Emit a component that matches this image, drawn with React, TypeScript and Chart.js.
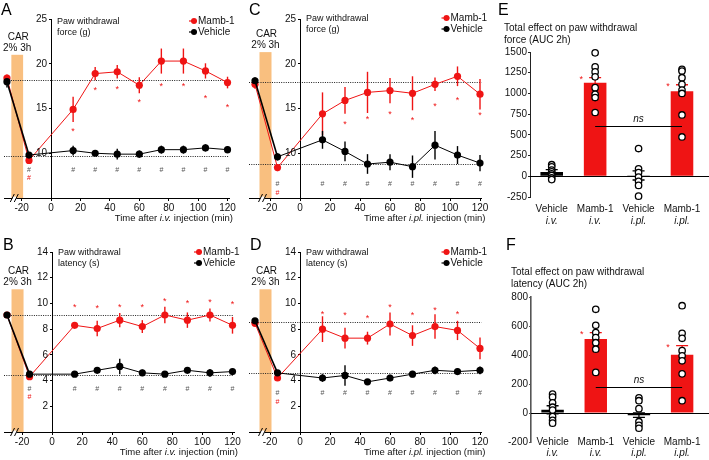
import React, { useEffect, useRef } from 'react';
import { Chart, registerables } from 'chart.js';

Chart.register(...registerables);

const FONT = "'Liberation Sans', Arial, Helvetica, sans-serif";
const RED = '#EF1414';
const BLACK = '#000000';
const ORANGE = '#F9BF7F';
const HASH_GRAY = '#555555';

// ---------- shared time axis ----------
const TIMES = [-30, -15, 15, 30, 45, 60, 75, 90, 105, 120];
const X_TICKS = [-20, 0, 20, 40, 60, 80, 100, 120];
const CAR_WINDOW = [-27, -19];
const AXIS_BREAK = -25;

// ---------- Panel A: force, i.v. ----------
const A_MAMB = [18.4, 9.2, 14.9, 18.9, 19.1, 17.6, 20.3, 20.3, 19.2, 17.9];
const A_MAMB_ERR = [0.4, 0.3, 1.4, 0.75, 0.75, 0.9, 1.4, 1.4, 0.85, 0.65];
const A_VEH = [18.0, 9.8, 10.3, 10.0, 9.9, 9.9, 10.4, 10.4, 10.6, 10.4];
const A_VEH_ERR = [0.65, 0.3, 0.55, 0.3, 0.6, 0.4, 0.45, 0.45, 0.4, 0.4];
const A_REF = [18.2, 9.7];
const A_STAR = [null, null, 12.7, 17.2, 17.4, 15.9, 17.7, 17.7, 16.3, 15.3];
const A_HASH = [null, 8.1, 8.1, 8.1, 8.1, 8.1, 8.1, 8.1, 8.1, 8.1];
const A_HASH_RED = [null, 7.2, null, null, null, null, null, null, null, null];

// ---------- Panel B: latency, i.v. ----------
const B_MAMB = [9.1, 4.3, 8.3, 8.05, 8.7, 8.2, 9.1, 8.7, 9.1, 8.3];
const B_MAMB_ERR = [0.15, 0.15, 0.2, 0.6, 0.55, 0.5, 0.65, 0.6, 0.5, 0.65];
const B_VEH = [9.1, 4.5, 4.5, 4.8, 5.1, 4.6, 4.5, 4.8, 4.6, 4.7];
const B_VEH_ERR = [0.15, 0.15, 0.15, 0.2, 0.6, 0.25, 0.15, 0.2, 0.3, 0.2];
const B_REF = [9.1, 4.45];
const B_STAR = [null, null, 9.8, 9.75, 9.85, 9.85, 10.3, 10.15, 10.2, 10.05];
const B_HASH = [null, 3.35, 3.35, 3.35, 3.35, 3.35, 3.35, 3.35, 3.35, 3.35];
const B_HASH_RED = [null, 2.7, null, null, null, null, null, null, null, null];

// ---------- Panel C: force, i.pl. ----------
const C_MAMB = [17.7, 8.4, 14.4, 15.9, 16.8, 17.0, 16.7, 17.7, 18.6, 16.6];
const C_MAMB_ERR = [0.5, 0.4, 2.4, 1.5, 2.3, 1.4, 1.9, 0.75, 1.1, 1.7];
const C_VEH = [18.1, 9.6, 11.5, 10.2, 8.8, 9.0, 8.5, 10.9, 9.8, 8.9];
const C_VEH_ERR = [0.4, 0.4, 1.0, 1.1, 1.1, 0.9, 1.25, 1.6, 1.0, 0.9];
const C_REF = [18.0, 8.8];
const C_STAR = [null, null, null, 13.4, 14.0, 14.6, 13.9, 15.4, 16.1, 14.4];
const C_HASH = [null, 6.6, 6.6, 6.6, 6.6, 6.6, 6.6, 6.6, 6.6, 6.6];
const C_HASH_RED = [null, 5.6, null, null, null, null, null, null, null, null];

// ---------- Panel D: latency, i.pl. ----------
const D_MAMB = [8.45, 4.2, 8.0, 7.3, 7.3, 8.4, 7.5, 8.2, 7.9, 6.5];
const D_MAMB_ERR = [0.15, 0.2, 1.0, 0.8, 0.5, 0.9, 0.8, 0.95, 0.75, 0.85];
const D_VEH = [8.65, 4.6, 4.2, 4.4, 3.9, 4.2, 4.5, 4.8, 4.7, 4.8];
const D_VEH_ERR = [0.2, 0.2, 0.3, 0.8, 0.15, 0.25, 0.25, 0.3, 0.25, 0.3];
const D_REF = [8.55, 4.6];
const D_STAR = [null, null, 9.3, 9.2, 9.0, 9.8, 9.2, 9.6, 9.3, null];
const D_HASH = [null, 3.0, 3.0, 3.0, 3.0, 3.0, 3.0, 3.0, 3.0, 3.0];
const D_HASH_RED = [null, 2.3, null, null, null, null, null, null, null, null];

// ---------- Bar panels ----------
const CAT_LABELS = ['Vehicle i.v.', 'Mamb-1 i.v.', 'Vehicle i.pl.', 'Mamb-1 i.pl.'];
const CAT_NAME = ['Vehicle', 'Mamb-1', 'Vehicle', 'Mamb-1'];
const CAT_ROUTE = ['i.v.', 'i.v.', 'i.pl.', 'i.pl.'];

// Panel E: AUC force
const E_MEANS = [52, 1130, 10, 1025];
const E_ERR = [28, 60, 55, 80];
const E_DOTS_VEH_IV = [140, 115, 75, 55, 30, 10, -20, -40];
const E_DOTS_MAMB_IV = [1490, 1320, 1260, 1200, 1070, 990, 950, 770];
const E_DOTS_VEH_IPL = [335, 90, 45, -10, -60, -110, -240];
const E_DOTS_MAMB_IPL = [1290, 1270, 1190, 1110, 1040, 1000, 740, 475];
const E_STAR = [null, 1195, null, 1105];
const E_NS = 610;

// Panel F: AUC latency
const F_MEANS = [22, 510, -15, 402];
const F_ERR = [28, 45, 15, 62];
const F_DOTS_VEH_IV = [130, 110, 70, 40, 20, -25, -50, -70];
const F_DOTS_MAMB_IV = [715, 605, 555, 520, 485, 440, 280];
const F_DOTS_VEH_IPL = [105, 85, 30, -60, -85, -105];
const F_DOTS_MAMB_IPL = [740, 550, 515, 430, 395, 360, 270, 85];
const F_STAR = [null, 555, null, 464];
const F_NS = 178;

type Num = number | null;

interface LineSpec {
  letter: string;
  box: { left: number; top: number; width: number; height: number };
  pad: { left: number; right: number; top: number; bottom: number };
  xMin: number; xMax: number; yMin: number; yMax: number; yStep: number;
  bandTop: number;
  mamb: number[]; mambErr: number[]; veh: number[]; vehErr: number[];
  ref: number[]; star: Num[]; hash: Num[]; hashRed: Num[];
  yTitle: string[]; route: string;
  letterPos: [number, number]; titleDy: number; legendDy: number;
}

interface BarSpec {
  letter: string;
  box: { left: number; top: number; width: number; height: number };
  pad: { left: number; right: number; top: number; bottom: number };
  axisWidth: number;
  yMin: number; yMax: number; yStep: number;
  means: number[]; err: number[]; dots: number[][]; star: Num[]; ns: number;
  title: string[]; titlePos: [number, number];
  letterPos: [number, number]; catDy: [number, number];
  axisColor: string; axisWidthPx: number;
}

const SPEC_A: LineSpec = {
  letter: 'A', box: { left: 0, top: 0, width: 240, height: 232 },
  pad: { left: 3, right: 11, top: 19, bottom: 18 },
  xMin: -32, xMax: 121, yMin: 5, yMax: 25, yStep: 5, bandTop: 21,
  mamb: A_MAMB, mambErr: A_MAMB_ERR, veh: A_VEH, vehErr: A_VEH_ERR,
  ref: A_REF, star: A_STAR, hash: A_HASH, hashRed: A_HASH_RED,
  yTitle: ['Paw withdrawal', 'force (g)'], route: 'i.v.',
  letterPos: [1, 15], titleDy: 5, legendDy: 2,
};
const SPEC_B: LineSpec = {
  letter: 'B', box: { left: 0, top: 225, width: 242, height: 235 },
  pad: { left: 3, right: 8, top: 27, bottom: 12 },
  xMin: -32, xMax: 121, yMin: 0, yMax: 14, yStep: 2, bandTop: 11.1,
  mamb: B_MAMB, mambErr: B_MAMB_ERR, veh: B_VEH, vehErr: B_VEH_ERR,
  ref: B_REF, star: B_STAR, hash: B_HASH, hashRed: B_HASH_RED,
  yTitle: ['Paw withdrawal', 'latency (s)'], route: 'i.v.',
  letterPos: [3, 25], titleDy: 3, legendDy: 0,
};
const SPEC_C: LineSpec = {
  letter: 'C', box: { left: 240, top: 0, width: 250, height: 232 },
  pad: { left: 9, right: 8.5, top: 19, bottom: 18 },
  xMin: -34, xMax: 121, yMin: 5, yMax: 25, yStep: 5, bandTop: 21.3,
  mamb: C_MAMB, mambErr: C_MAMB_ERR, veh: C_VEH, vehErr: C_VEH_ERR,
  ref: C_REF, star: C_STAR, hash: C_HASH, hashRed: C_HASH_RED,
  yTitle: ['Paw withdrawal', 'force (g)'], route: 'i.pl.',
  letterPos: [9, 15], titleDy: 2, legendDy: -1,
};
const SPEC_D: LineSpec = {
  letter: 'D', box: { left: 240, top: 225, width: 250, height: 235 },
  pad: { left: 9, right: 8.5, top: 27, bottom: 12 },
  xMin: -34, xMax: 121, yMin: 0, yMax: 14, yStep: 2, bandTop: 11.1,
  mamb: D_MAMB, mambErr: D_MAMB_ERR, veh: D_VEH, vehErr: D_VEH_ERR,
  ref: D_REF, star: D_STAR, hash: D_HASH, hashRed: D_HASH_RED,
  yTitle: ['Paw withdrawal', 'latency (s)'], route: 'i.pl.',
  letterPos: [10, 25], titleDy: 3, legendDy: 0,
};

const SPEC_E: BarSpec = {
  letter: 'E', box: { left: 490, top: 0, width: 219, height: 232 },
  pad: { left: 0, right: 3, top: 52, bottom: 35 }, axisWidth: 40,
  yMin: -250, yMax: 1500, yStep: 250,
  means: E_MEANS, err: E_ERR,
  dots: [E_DOTS_VEH_IV, E_DOTS_MAMB_IV, E_DOTS_VEH_IPL, E_DOTS_MAMB_IPL],
  star: E_STAR, ns: E_NS,
  title: ['Total effect on paw withdrawal', 'force (AUC 2h)'], titlePos: [14, 31],
  letterPos: [8, 15], catDy: [15, 27], axisColor: '#222', axisWidthPx: 1,
};
const SPEC_F: BarSpec = {
  letter: 'F', box: { left: 490, top: 232, width: 219, height: 228 },
  pad: { left: 0, right: 3, top: 65, bottom: 18 }, axisWidth: 41,
  yMin: -200, yMax: 800, yStep: 200,
  means: F_MEANS, err: F_ERR,
  dots: [F_DOTS_VEH_IV, F_DOTS_MAMB_IV, F_DOTS_VEH_IPL, F_DOTS_MAMB_IPL],
  star: F_STAR, ns: F_NS,
  title: ['Total effect on paw withdrawal', 'latency (AUC 2h)'], titlePos: [21, 43],
  letterPos: [16, 18], catDy: [3, 14], axisColor: '#555', axisWidthPx: 1.6,
};

const f = (size: number, italic = false) => `${italic ? 'italic ' : ''}${size}px ${FONT}`;

function drawRich(ctx: CanvasRenderingContext2D, parts: [string, boolean][], xRight: number, y: number, size: number) {
  let total = 0;
  const widths = parts.map(([t, it]) => {
    ctx.font = f(size, it);
    const w = ctx.measureText(t).width;
    total += w;
    return w;
  });
  let x = xRight - total;
  ctx.textAlign = 'left';
  parts.forEach(([t, it], i) => {
    ctx.font = f(size, it);
    ctx.fillText(t, x, y);
    x += widths[i];
  });
}

function linePlugin(s: LineSpec) {
  return {
    id: 'lineDecor',
    beforeDraw(chart: any) {
      const { ctx, chartArea: ca, scales } = chart;
      const x = scales.x, y = scales.y;
      ctx.save();
      const x0 = x.getPixelForValue(CAR_WINDOW[0]);
      const x1 = x.getPixelForValue(CAR_WINDOW[1]);
      const yt = y.getPixelForValue(s.bandTop);
      ctx.fillStyle = ORANGE;
      ctx.fillRect(x0, yt, x1 - x0, ca.bottom - yt);
      ctx.strokeStyle = '#222';
      ctx.lineWidth = 1;
      ctx.setLineDash([1, 1.3]);
      for (const v of s.ref) {
        const py = Math.round(y.getPixelForValue(v)) + 0.5;
        ctx.beginPath();
        ctx.moveTo(ca.left, py);
        ctx.lineTo(ca.right, py);
        ctx.stroke();
      }
      ctx.restore();
    },
    beforeDatasetsDraw(chart: any) {
      const { ctx, scales } = chart;
      const x = scales.x, y = scales.y;
      ctx.save();
      ctx.lineWidth = 1.4;
      const groups: [number[], number[], string][] = [[s.mamb, s.mambErr, RED], [s.veh, s.vehErr, BLACK]];
      groups.forEach(([vals, errs, col]) => {
        ctx.strokeStyle = col;
        TIMES.forEach((t, i) => {
          const px = x.getPixelForValue(t);
          ctx.beginPath();
          ctx.moveTo(px, y.getPixelForValue(vals[i] - errs[i]));
          ctx.lineTo(px, y.getPixelForValue(vals[i] + errs[i]));
          ctx.stroke();
        });
      });
      ctx.restore();
    },
    afterDraw(chart: any) {
      const { ctx, chartArea: ca, scales } = chart;
      const x = scales.x, y = scales.y;
      const ax = x.getPixelForValue(0);
      ctx.save();
      // y tick labels (axis crosses at x = 0)
      ctx.fillStyle = '#111';
      ctx.font = f(10);
      ctx.textAlign = 'right';
      ctx.textBaseline = 'middle';
      y.ticks.forEach((t: any) => {
        if (t.value === s.yMin) return;
        ctx.fillText(String(t.value), ax - 4, y.getPixelForValue(t.value));
      });
      ctx.textAlign = 'center';
      // significance marks
      ctx.fillStyle = RED;
      ctx.font = f(9);
      TIMES.forEach((t, i) => {
        const v = s.star[i];
        if (v !== null) ctx.fillText('*', x.getPixelForValue(t), y.getPixelForValue(v) + 2);
      });
      ctx.font = f(7);
      ctx.fillStyle = HASH_GRAY;
      TIMES.forEach((t, i) => {
        const v = s.hash[i];
        if (v !== null) ctx.fillText('#', x.getPixelForValue(t), y.getPixelForValue(v));
      });
      ctx.fillStyle = RED;
      TIMES.forEach((t, i) => {
        const v = s.hashRed[i];
        if (v !== null) ctx.fillText('#', x.getPixelForValue(t), y.getPixelForValue(v));
      });
      // axis break
      const bx = x.getPixelForValue(AXIS_BREAK);
      const by = ca.bottom;
      ctx.fillStyle = '#fff';
      ctx.fillRect(bx - 2, by - 1.5, 4, 3);
      ctx.strokeStyle = '#000';
      ctx.lineWidth = 1;
      [bx - 2, bx + 2].forEach((cx) => {
        ctx.beginPath();
        ctx.moveTo(cx - 2, by + 4);
        ctx.lineTo(cx + 2, by - 4);
        ctx.stroke();
      });
      // CAR label
      const x0 = x.getPixelForValue(CAR_WINDOW[0]);
      const x1 = x.getPixelForValue(CAR_WINDOW[1]);
      const yt = y.getPixelForValue(s.bandTop);
      ctx.fillStyle = '#111';
      ctx.textBaseline = 'alphabetic';
      ctx.font = f(10);
      ctx.fillText('CAR', (x0 + x1) / 2 + 1, yt - 15);
      ctx.fillText('2% 3h', (x0 + x1) / 2, yt - 4);
      // y title
      ctx.textAlign = 'left';
      ctx.font = f(9);
      ctx.fillText(s.yTitle[0], ax + 6, ca.top + s.titleDy);
      ctx.fillText(s.yTitle[1], ax + 6, ca.top + s.titleDy + 11);
      // legend
      const lx = ca.right - 40;
      const rows: [string, string][] = [['Mamb-1', RED], ['Vehicle', BLACK]];
      rows.forEach(([label, col], i) => {
        const ry = ca.top + s.legendDy + i * 11;
        ctx.strokeStyle = col;
        ctx.lineWidth = 1.2;
        ctx.beginPath();
        ctx.moveTo(lx, ry);
        ctx.lineTo(lx + 8, ry);
        ctx.stroke();
        ctx.fillStyle = col;
        ctx.beginPath();
        ctx.arc(lx + 5, ry, 3, 0, Math.PI * 2);
        ctx.fill();
        ctx.fillStyle = '#111';
        ctx.textBaseline = 'middle';
        ctx.font = f(10);
        ctx.fillText(label, lx + 9, ry + 0.5);
      });
      // x title
      ctx.textBaseline = 'alphabetic';
      ctx.fillStyle = '#111';
      drawRich(ctx, [['Time after ', false], [s.route, true], [' injection (min)', false]], ca.right + 4, ca.bottom + 23, 9.5);
      // panel letter
      ctx.font = f(16);
      ctx.textAlign = 'left';
      ctx.fillStyle = '#000';
      ctx.fillText(s.letter, s.letterPos[0], s.letterPos[1]);
      ctx.restore();
    },
  };
}

function barPlugin(s: BarSpec) {
  return {
    id: 'barDecor',
    beforeDatasetsDraw(chart: any) {
      const { ctx, chartArea: ca, scales } = chart;
      const py = Math.round(scales.y.getPixelForValue(0)) + 0.5;
      ctx.save();
      ctx.strokeStyle = '#000';
      ctx.lineWidth = 1.2;
      ctx.beginPath();
      ctx.moveTo(ca.left, py);
      ctx.lineTo(chart.width, py);
      ctx.stroke();
      ctx.restore();
    },
    afterDatasetDraw(chart: any, args: any) {
      if (args.index !== 1) return;
      const { ctx, scales } = chart;
      const x = scales.x, y = scales.y;
      ctx.save();
      ctx.lineWidth = 1.3;
      s.means.forEach((m, i) => {
        const px = x.getPixelForValue(i);
        const col = i % 2 ? RED : BLACK;
        ctx.strokeStyle = col;
        const yTop = y.getPixelForValue(m + s.err[i]);
        const yBot = y.getPixelForValue(m - s.err[i]);
        ctx.beginPath();
        ctx.moveTo(px, yTop);
        ctx.lineTo(px, yBot);
        ctx.moveTo(px - 6, yTop);
        ctx.lineTo(px + 6, yTop);
        ctx.moveTo(px - 6, yBot);
        ctx.lineTo(px + 6, yBot);
        ctx.stroke();
      });
      ctx.restore();
    },
    afterDraw(chart: any) {
      const { ctx, chartArea: ca, scales } = chart;
      const x = scales.x, y = scales.y;
      ctx.save();
      // ns bracket
      const nsY = Math.round(y.getPixelForValue(s.ns)) + 0.5;
      ctx.strokeStyle = '#000';
      ctx.lineWidth = 1.2;
      ctx.beginPath();
      ctx.moveTo(x.getPixelForValue(1), nsY);
      ctx.lineTo(x.getPixelForValue(3), nsY);
      ctx.stroke();
      ctx.fillStyle = '#111';
      ctx.textAlign = 'center';
      ctx.textBaseline = 'alphabetic';
      ctx.font = f(10, true);
      ctx.fillText('ns', x.getPixelForValue(2), nsY - 5);
      // stars
      ctx.fillStyle = RED;
      ctx.font = f(9);
      ctx.textBaseline = 'middle';
      s.star.forEach((v, i) => {
        if (v !== null) ctx.fillText('*', x.getPixelForValue(i) - 14, y.getPixelForValue(v) + 2);
      });
      // category labels
      ctx.fillStyle = '#111';
      ctx.textBaseline = 'alphabetic';
      CAT_NAME.forEach((name, i) => {
        const px = x.getPixelForValue(i);
        ctx.font = f(10);
        ctx.fillText(name, px, ca.bottom + s.catDy[0]);
        ctx.font = f(10, true);
        ctx.fillText(CAT_ROUTE[i], px, ca.bottom + s.catDy[1]);
      });
      // title
      ctx.textAlign = 'left';
      ctx.font = f(10);
      ctx.fillText(s.title[0], s.titlePos[0], s.titlePos[1]);
      ctx.fillText(s.title[1], s.titlePos[0], s.titlePos[1] + 12);
      // letter
      ctx.font = f(16);
      ctx.fillStyle = '#000';
      ctx.fillText(s.letter, s.letterPos[0], s.letterPos[1]);
      ctx.restore();
    },
  };
}

function buildLine(canvas: HTMLCanvasElement, s: LineSpec) {
  const pts = (vals: number[]) => TIMES.map((t, i) => ({ x: t, y: vals[i] }));
  const ds = (label: string, vals: number[], col: string, firstW: number) => ({
    label,
    data: pts(vals),
    borderColor: col,
    backgroundColor: col,
    pointBackgroundColor: col,
    pointBorderColor: col,
    pointRadius: 3.6,
    pointBorderWidth: 0,
    borderWidth: 1,
    segment: { borderWidth: (c: any) => (c.p0DataIndex === 0 ? firstW : 1) },
    tension: 0,
    clip: false,
  });
  return new Chart(canvas, {
    type: 'line',
    data: {
      datasets: [ds('Vehicle', s.veh, BLACK, 1.6), ds('Mamb-1', s.mamb, RED, 1)] as any,
    },
    options: {
      responsive: false,
      animation: false,
      devicePixelRatio: 1,
      events: [],
      layout: { padding: s.pad },
      plugins: { legend: { display: false }, tooltip: { enabled: false } },
      scales: {
        x: {
          type: 'linear',
          min: s.xMin,
          max: s.xMax,
          position: 'bottom',
          afterBuildTicks: (sc: any) => {
            sc.ticks = X_TICKS.map((v) => ({ value: v }));
          },
          afterFit: (sc: any) => {
            sc.height = 16;
          },
          ticks: { autoSkip: false, maxRotation: 0, padding: 1, color: '#111', font: { size: 10, family: FONT } },
          grid: { drawOnChartArea: false, drawTicks: true, tickLength: 3, color: '#000', lineWidth: 1 },
          border: { display: true, color: '#000', width: 1 },
        },
        y: {
          type: 'linear',
          min: s.yMin,
          max: s.yMax,
          position: { x: 0 } as any,
          ticks: {
            stepSize: s.yStep,
            display: false,
          },
          grid: { drawOnChartArea: false, drawTicks: true, tickLength: 2, color: '#000', lineWidth: 1 },
          border: { display: true, color: '#000', width: 1 },
        },
      },
    } as any,
    plugins: [linePlugin(s) as any],
  });
}

function buildBar(canvas: HTMLCanvasElement, s: BarSpec) {
  const dots = s.dots.flatMap((arr, i) => arr.map((v) => ({ x: CAT_LABELS[i], y: v })));
  return new Chart(canvas, {
    type: 'bar',
    data: {
      labels: CAT_LABELS,
      datasets: [
        {
          type: 'line',
          data: dots,
          showLine: false,
          pointRadius: 3.2,
          pointBorderWidth: 1.3,
          pointBackgroundColor: '#fff',
          pointBorderColor: '#000',
          clip: false,
        },
        {
          type: 'bar',
          data: s.means,
          backgroundColor: s.means.map((_, i) => (i % 2 ? RED : BLACK)),
          barPercentage: 0.52,
          categoryPercentage: 1,
        },
      ] as any,
    },
    options: {
      responsive: false,
      animation: false,
      devicePixelRatio: 1,
      events: [],
      layout: { padding: s.pad },
      plugins: { legend: { display: false }, tooltip: { enabled: false } },
      scales: {
        x: { type: 'category', display: false, offset: true },
        y: {
          type: 'linear',
          min: s.yMin,
          max: s.yMax,
          position: 'left',
          afterFit: (sc: any) => {
            sc.width = s.axisWidth;
          },
          ticks: {
            stepSize: s.yStep,
            padding: 1,
            color: '#111',
            font: { size: 10, family: FONT },
            callback: (v: any) => String(v),
          },
          grid: { drawOnChartArea: false, drawTicks: true, tickLength: 2, color: s.axisColor, lineWidth: 1 },
          border: { display: true, color: s.axisColor, width: s.axisWidthPx },
        },
      },
    } as any,
    plugins: [barPlugin(s) as any],
  });
}

function Panel<T extends { box: { left: number; top: number; width: number; height: number } }>({
  spec,
  build,
}: {
  spec: T;
  build: (c: HTMLCanvasElement, s: T) => Chart;
}) {
  const ref = useRef<HTMLCanvasElement>(null);
  useEffect(() => {
    const chart = build(ref.current as HTMLCanvasElement, spec);
    return () => chart.destroy();
  }, []);
  const b = spec.box;
  return (
    <canvas
      ref={ref}
      width={b.width}
      height={b.height}
      style={{ position: 'absolute', left: b.left, top: b.top, width: b.width, height: b.height }}
    />
  );
}

export default function App() {
  return (
    <div
      style={{
        position: 'fixed',
        left: 0,
        top: 0,
        width: 709,
        height: 460,
        background: '#fff',
        overflow: 'hidden',
      }}
    >
      <Panel spec={SPEC_A} build={buildLine} />
      <Panel spec={SPEC_B} build={buildLine} />
      <Panel spec={SPEC_C} build={buildLine} />
      <Panel spec={SPEC_D} build={buildLine} />
      <Panel spec={SPEC_E} build={buildBar} />
      <Panel spec={SPEC_F} build={buildBar} />
    </div>
  );
}
